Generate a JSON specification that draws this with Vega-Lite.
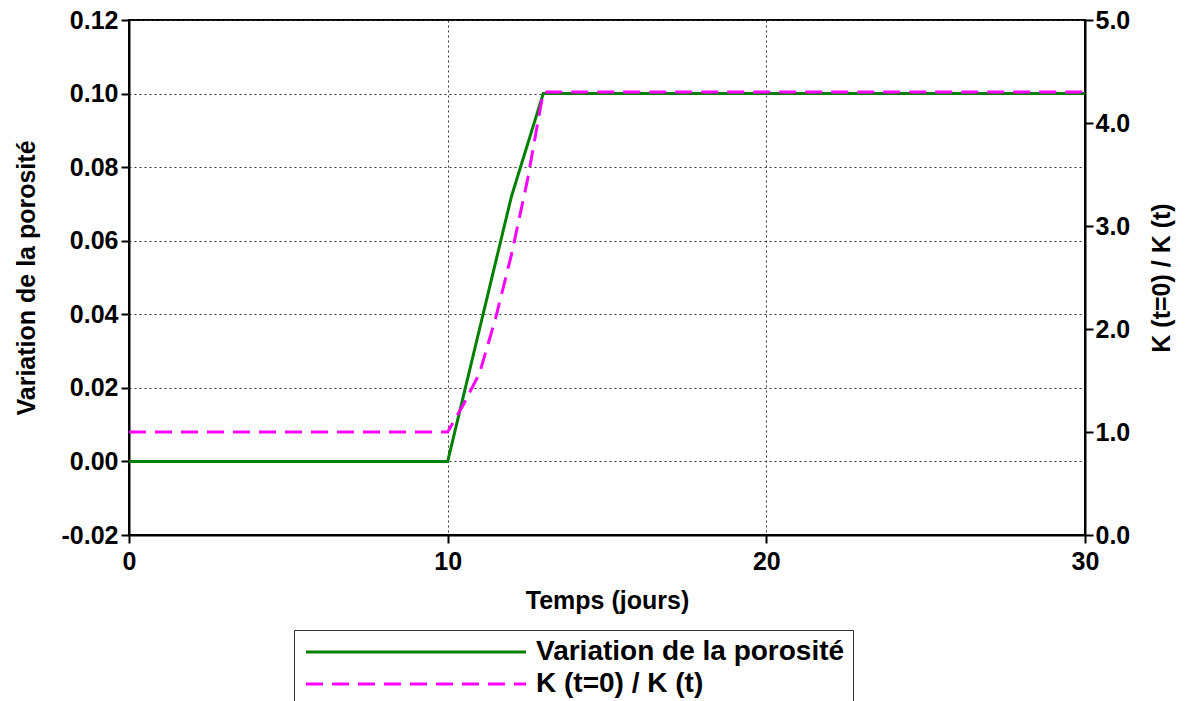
{
  "$schema": "https://vega.github.io/schema/vega-lite/v6.json",
  "width": 956,
  "height": 515,
  "autosize": "none",
  "padding": {"left": 129, "top": 20, "right": 105, "bottom": 166},
  "background": "white",
  "config": {
    "font": "Liberation Sans",
    "view": {"stroke": "black", "strokeWidth": 2}
  },
  "data": {
    "values": [
      {"t": 0, "v": 0, "s": "Variation de la porosité"},
      {"t": 10, "v": 0, "s": "Variation de la porosité"},
      {"t": 11, "v": 0.036, "s": "Variation de la porosité"},
      {"t": 12, "v": 0.072, "s": "Variation de la porosité"},
      {"t": 13, "v": 0.1, "s": "Variation de la porosité"},
      {"t": 30, "v": 0.1, "s": "Variation de la porosité"},
      {"t": 0, "v": 1.0, "s": "K (t=0) / K (t)"},
      {"t": 10, "v": 1.0, "s": "K (t=0) / K (t)"},
      {"t": 10.5, "v": 1.27, "s": "K (t=0) / K (t)"},
      {"t": 11, "v": 1.57, "s": "K (t=0) / K (t)"},
      {"t": 11.5, "v": 2.1, "s": "K (t=0) / K (t)"},
      {"t": 12, "v": 2.72, "s": "K (t=0) / K (t)"},
      {"t": 12.5, "v": 3.44, "s": "K (t=0) / K (t)"},
      {"t": 13, "v": 4.3, "s": "K (t=0) / K (t)"},
      {"t": 30, "v": 4.3, "s": "K (t=0) / K (t)"}
    ]
  },
  "encoding": {
    "x": {
      "field": "t", "type": "quantitative",
      "scale": {"domain": [0, 30], "nice": false, "zero": false},
      "axis": {
        "values": [0, 10, 20, 30], "title": "Temps (jours)", "format": "d",
        "labelFont": "Liberation Sans", "labelFontWeight": "bold", "labelFontSize": 25, "labelColor": "black", "labelPadding": 6, "labelOverlap": false, "labelFlush": false,
        "titleFont": "Liberation Sans", "titleFontWeight": "bold", "titleFontSize": 25, "titleColor": "black", "titlePadding": 14,
        "domainColor": "black", "domainWidth": 2, "tickColor": "black", "tickWidth": 2, "tickSize": 8,
        "grid": true, "gridColor": "#333333", "gridDash": [2, 3], "gridWidth": 1
      }
    },
    "color": {
      "field": "s", "type": "nominal",
      "scale": {"domain": ["Variation de la porosité", "K (t=0) / K (t)"], "range": ["#008000", "#ff00ff"]},
      "legend": {
        "title": null, "orient": "none", "legendX": 165, "legendY": 610,
        "symbolType": "M-1,0H21", "symbolSize": 400, "symbolStrokeWidth": 3,
        "labelFont": "Liberation Sans", "labelFontWeight": "bold", "labelFontSize": 28, "labelColor": "black",
        "strokeColor": "#333333", "padding": 8, "rowPadding": 4, "labelOffset": 206, "labelLimit": 600
      }
    },
    "strokeDash": {
      "field": "s", "type": "nominal",
      "scale": {"domain": ["Variation de la porosité", "K (t=0) / K (t)"], "range": [[1, 0], [17, 9]]},
      "legend": {
        "title": null, "orient": "none", "legendX": 165, "legendY": 610,
        "symbolType": "M-1,0H21", "symbolSize": 400, "symbolStrokeWidth": 3,
        "labelFont": "Liberation Sans", "labelFontWeight": "bold", "labelFontSize": 28, "labelColor": "black",
        "strokeColor": "#333333", "padding": 8, "rowPadding": 4, "labelOffset": 206, "labelLimit": 600
      }
    }
  },
  "layer": [
    {
      "transform": [{"filter": "datum.s === 'Variation de la porosité'"}],
      "mark": {"type": "line", "strokeWidth": 3},
      "encoding": {
        "y": {
          "field": "v", "type": "quantitative",
          "scale": {"domain": [-0.02, 0.12], "nice": false, "zero": false},
          "axis": {
            "orient": "left", "title": "Variation de la porosité",
            "values": [-0.02, 0, 0.02, 0.04, 0.06, 0.08, 0.1, 0.12],
            "labelExpr": "datum.value < 0 ? '-' + format(-datum.value, '.2f') : format(datum.value, '.2f')",
            "labelFont": "Liberation Sans", "labelFontWeight": "bold", "labelFontSize": 25, "labelColor": "black", "labelPadding": 3, "labelOverlap": false, "labelFlush": false,
            "titleFont": "Liberation Sans", "titleFontWeight": "bold", "titleFontSize": 25, "titleColor": "black", "titlePadding": 22,
            "domainColor": "black", "domainWidth": 2, "tickColor": "black", "tickWidth": 2, "tickSize": 8,
            "grid": true, "gridColor": "#333333", "gridDash": [2, 3], "gridWidth": 1
          }
        }
      }
    },
    {
      "transform": [{"filter": "datum.s === 'K (t=0) / K (t)'"}],
      "mark": {"type": "line", "strokeWidth": 3},
      "encoding": {
        "y": {
          "field": "v", "type": "quantitative",
          "scale": {"domain": [0, 5], "nice": false, "zero": false},
          "axis": {
            "orient": "right", "title": "K (t=0) / K (t)", "format": ".1f",
            "values": [0, 1, 2, 3, 4, 5], "grid": false,
            "labelFont": "Liberation Sans", "labelFontWeight": "bold", "labelFontSize": 25, "labelColor": "black", "labelPadding": 2, "labelOverlap": false, "labelFlush": false,
            "titleFont": "Liberation Sans", "titleFontWeight": "bold", "titleFontSize": 25, "titleColor": "black", "titlePadding": 20,
            "titleAngle": 270, "titleBaseline": "top",
            "domainColor": "black", "domainWidth": 2, "tickColor": "black", "tickWidth": 2, "tickSize": 8
          }
        }
      }
    }
  ],
  "resolve": {"scale": {"y": "independent"}}
}
